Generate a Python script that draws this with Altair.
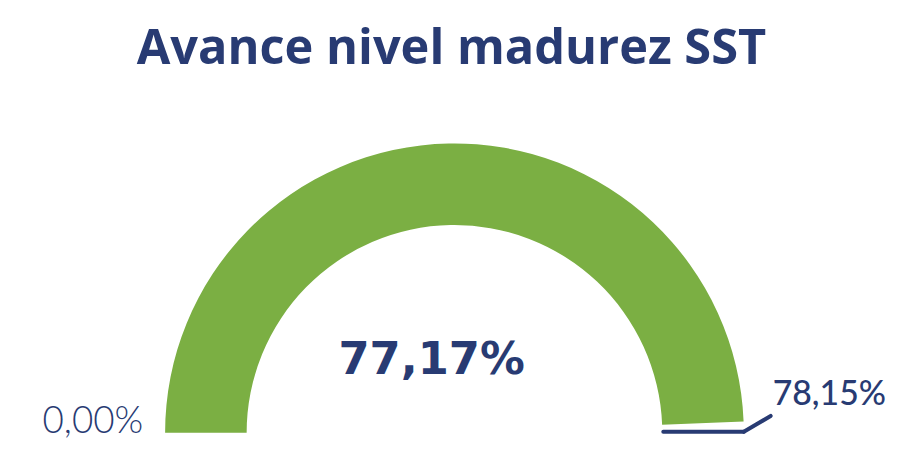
import math
import altair as alt
import pandas as pd

# ---- data ----
title_text = ["Avance nivel madurez SST"]
gauge_min = [0.00]
gauge_value = [77.17]
gauge_max = [78.15]


def pct(v):
    return f"{v:.2f}".replace(".", ",") + "%"


df = pd.DataFrame({
    "start": gauge_min,
    "value": gauge_value,
    "max": gauge_max,
    "value_label": [pct(v) for v in gauge_value],
    "min_label": [pct(v) for v in gauge_min],
    "max_label": [pct(v) for v in gauge_max],
    "title": title_text,
})

GREEN = "#7BAF43"
BLUE = "#283B73"
CX, CY = 449, 426

base = alt.Chart(df)

theta_scale = alt.Scale(domain=[gauge_min[0], gauge_max[0]],
                        range=[-math.pi / 2, math.pi / 2])

arc = base.mark_arc(radius=291, radius2=209, color=GREEN).encode(
    theta=alt.Theta("start:Q", scale=theta_scale),
    theta2="value:Q",
    x=alt.value(CX),
    y=alt.value(CY),
)

title = base.mark_text(font="Open Sans", fontWeight="bold", fontSize=49,
                       color=BLUE, align="center", baseline="alphabetic").encode(
    text="title:N", x=alt.value(446), y=alt.value(55))

center = base.mark_text(font="DejaVu Sans", fontWeight="bold", fontSize=45,
                        color=BLUE, align="center", baseline="alphabetic").encode(
    text="value_label:N", x=alt.value(426), y=alt.value(367))

min_lab = base.mark_text(font="Lato", fontWeight=300, fontSize=37,
                         color=BLUE, align="right", baseline="alphabetic").encode(
    text="min_label:N", x=alt.value(136), y=alt.value(426))

max_lab = base.mark_text(font="Lato", fontWeight=500, fontSize=34,
                         color=BLUE, align="left", baseline="alphabetic").encode(
    text="max_label:N", x=alt.value(769), y=alt.value(398))

lead1 = base.mark_rule(color=BLUE, strokeWidth=4, strokeCap="round").encode(
    x=alt.value(659), x2=alt.value(740), y=alt.value(425), y2=alt.value(425))
lead2 = base.mark_rule(color=BLUE, strokeWidth=4, strokeCap="round").encode(
    x=alt.value(740), x2=alt.value(767), y=alt.value(425), y2=alt.value(409))

chart = alt.layer(arc, lead1, lead2, title, center, min_lab, max_lab).properties(
    width=886, height=437, padding=0,
    autosize=alt.AutoSizeParams(type="none"),
).configure_view(stroke="transparent")

chart.save("out.html", embed_options={"renderer": "svg", "actions": False})
